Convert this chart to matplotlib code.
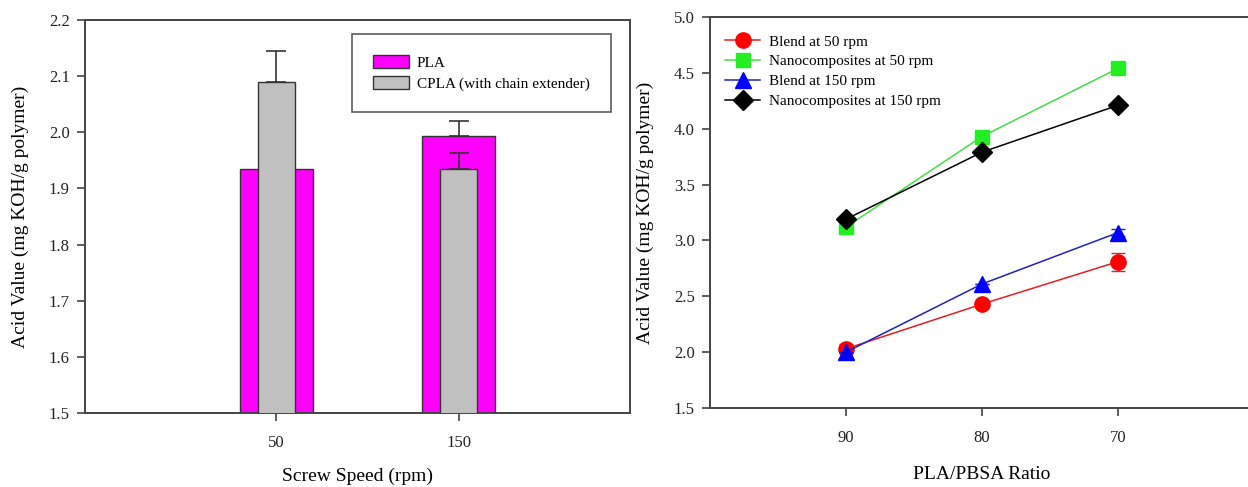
import numpy as np
import matplotlib
matplotlib.use('Agg')
import matplotlib.pyplot as plt

plt.rcParams['font.family'] = ['Liberation Serif', 'DejaVu Serif']
plt.rcParams['font.size'] = 12

# left panel data
speeds = ['50', '150']
pla = [1.935, 1.993]
pla_err = [0.0, 0.027]
cpla = [2.09, 1.935]
cpla_err = [0.055, 0.028]

# right panel data
ratio = [90, 80, 70]
blend50 = [2.03, 2.43, 2.81]
blend50_err = [0.04, 0.0, 0.08]
nano50 = [3.12, 3.93, 4.54]
blend150 = [2.00, 2.61, 3.07]
blend150_err = [0.0, 0.0, 0.03]
nano150 = [3.19, 3.79, 4.21]

spine_c = '#444444'

fig = plt.figure(figsize=(12.48, 4.87), dpi=100)
W, H = 1248, 487

ax1 = fig.add_axes([85 / W, 1 - 413 / H, (630 - 85) / W, (413 - 20) / H])
x = np.arange(len(speeds))
ekw = dict(ecolor='#333333', capsize=7, elinewidth=1.2, capthick=1.2)
ax1.bar(x, pla, width=0.40, color='#ff00ff', edgecolor='#333333', linewidth=1.0,
        yerr=[np.zeros(len(pla)), pla_err], error_kw=ekw, label='PLA', zorder=2)
ax1.bar(x, cpla, width=0.20, color='#c0c0c0', edgecolor='#333333', linewidth=1.0,
        yerr=[np.zeros(len(cpla)), cpla_err], error_kw=ekw,
        label='CPLA (with chain extender)', zorder=3)
ax1.set_xlim(-1.05, 1.94)
ax1.set_ylim(1.5, 2.2)
yt1 = np.arange(1.5, 2.21, 0.1)
ax1.set_yticks(yt1)
ax1.set_yticklabels(['%.1f' % v for v in yt1])
ax1.set_xticks(x)
ax1.set_xticklabels(speeds)
ax1.set_xlabel('Screw Speed (rpm)', fontsize=14, labelpad=12)
ax1.set_ylabel('Acid Value (mg KOH/g polymer)', fontsize=14, labelpad=14)
leg1 = ax1.legend(loc='upper left', bbox_to_anchor=((352 - 85) / 545, (413 - 34) / 393),
                  frameon=True, fancybox=False, edgecolor='#333333', fontsize=11,
                  borderpad=1.4, handlelength=2.3, handleheight=0.9,
                  handletextpad=0.55, labelspacing=0.4, borderaxespad=0)
leg1.get_frame().set_linewidth(1.2)

ax2 = fig.add_axes([710 / W, 1 - 408 / H, (1254 - 710) / W, (408 - 17) / H])
h1 = ax2.errorbar(ratio, blend50, yerr=blend50_err, color='#e02020', marker='o', markersize=11,
                  markerfacecolor='#ff0000', markeredgecolor='#ff0000', linewidth=1.1,
                  ecolor='#c03030', capsize=5, label='Blend at 50 rpm', zorder=3)
h2, = ax2.plot(ratio, nano50, color='#44dd44', marker='s', markersize=10,
               markerfacecolor='#22ee22', markeredgecolor='#22ee22', linewidth=1.1,
               label='Nanocomposites at 50 rpm', zorder=3)
h3 = ax2.errorbar(ratio, blend150, yerr=blend150_err, color='#2020c0', marker='^', markersize=11,
                  markerfacecolor='#0000ff', markeredgecolor='#0000ff', linewidth=1.1,
                  ecolor='#2020c0', capsize=5, label='Blend at 150 rpm', zorder=4)
h4, = ax2.plot(ratio, nano150, color='#000000', marker='D', markersize=10,
               markerfacecolor='#000000', linewidth=1.1,
               label='Nanocomposites at 150 rpm', zorder=4)
ax2.set_xlim(100, 60)
ax2.set_ylim(1.5, 5.0)
ax2.set_xticks(ratio)
yt2 = np.arange(1.5, 5.01, 0.5)
ax2.set_yticks(yt2)
ax2.set_yticklabels(['%.1f' % v for v in yt2])
ax2.set_xlabel('PLA/PBSA Ratio', fontsize=14, labelpad=14)
ax2.set_ylabel('Acid Value (mg KOH/g polymer)', fontsize=14, labelpad=14)
ax2.legend([h1.lines[0], h2, h3.lines[0], h4],
           ['Blend at 50 rpm', 'Nanocomposites at 50 rpm', 'Blend at 150 rpm',
            'Nanocomposites at 150 rpm'],
           loc='upper left', bbox_to_anchor=(15 / 544, (408 - 35) / 391), frameon=False,
           fontsize=11, handlelength=2.3, handletextpad=0.55, labelspacing=0.4,
           borderpad=0, borderaxespad=0)

for ax in (ax1, ax2):
    for s in ax.spines.values():
        s.set_color(spine_c)
        s.set_linewidth(1.4)
    ax.tick_params(direction='out', length=6, width=1.2, color=spine_c,
                   labelsize=12, labelcolor='#222222', top=False, right=False, pad=5)
    ax.tick_params(axis='x', pad=10)

fig.savefig('out.png', dpi=100)
